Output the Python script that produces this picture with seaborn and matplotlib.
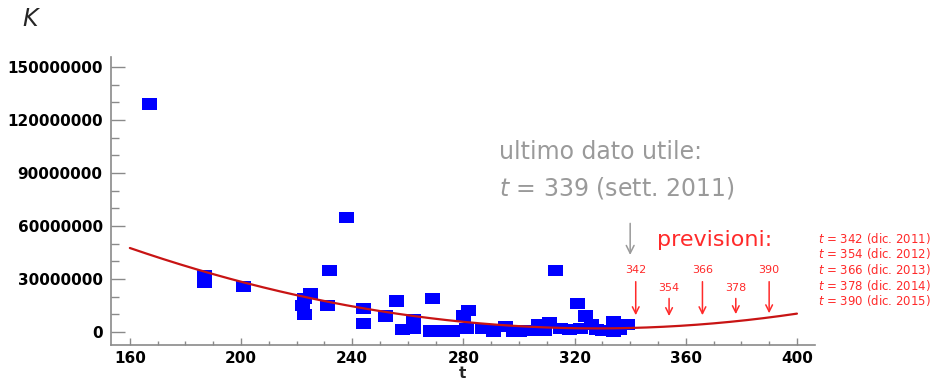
import numpy as np
import pandas as pd
import matplotlib
matplotlib.use("Agg")
import matplotlib.pyplot as plt
from matplotlib.ticker import MultipleLocator, FuncFormatter
import seaborn as sns

# observed points (t, K)
t_obs = [167, 187, 187, 201, 222, 223, 223, 225, 231, 232, 238, 244, 244, 252,
         256, 258, 262, 262, 268, 269, 272, 276, 280, 281, 282, 287, 291, 295,
         298, 300, 304, 307, 309, 311, 313, 315, 318, 321, 322, 324, 326, 328,
         330, 334, 334, 336, 339]
k_obs = [129e6, 32e6, 28e6, 25.5e6, 15e6, 10e6, 19e6, 21.5e6, 15e6, 35e6, 65e6,
         13.5e6, 5e6, 9e6, 17.5e6, 1.5e6, 7e6, 2e6, 0.5e6, 19e6, 0.5e6, 0.5e6,
         9e6, 2e6, 12e6, 2e6, 0.5e6, 3e6, 0.5e6, 0.5e6, 1e6, 4e6, 1e6, 5.5e6,
         35e6, 2e6, 1.5e6, 16e6, 2e6, 9e6, 4e6, 1.5e6, 1e6, 6e6, 0.5e6, 1.5e6, 4e6]

# quadratic trend K(t) = a (t - t0)^2 + c
fit_a = 1612.0
fit_t0 = 328.0
fit_c = 2.0e6
t_fit = np.linspace(160, 400, 241)

# forecasts
t_prev = [342, 354, 366, 378, 390]
prev_label_y = [35e6, 25e6, 35e6, 25e6, 35e6]
prev_arrow_top = [30e6, 20.5e6, 30e6, 20.5e6, 30e6]
prev_arrow_tip = [7.9e6, 7.4e6, 7.9e6, 8.5e6, 9.0e6]
prev_dates = ["dic. 2011", "dic. 2012", "dic. 2013", "dic. 2014", "dic. 2015"]

t_last = 339
RED = "#ff2a2a"
GRAY = "#9a9a9a"

sns.set_style("white")
plt.rcParams["font.family"] = ["DejaVu Sans"]

fig = plt.figure(figsize=(9.34, 3.79), dpi=100)
ax = fig.add_axes([0.1188, 0.0897, 0.7538, 0.76])

df = pd.DataFrame({"t": t_obs, "K": k_obs})
rect = [(-1.35, -1), (1.35, -1), (1.35, 1), (-1.35, 1)]
sns.scatterplot(data=df, x="t", y="K", marker=rect, s=117, color="#0000ff",
                edgecolor="none", linewidth=0, ax=ax, zorder=2)

df_fit = pd.DataFrame({"t": t_fit, "K": fit_a * (t_fit - fit_t0) ** 2 + fit_c})
sns.lineplot(data=df_fit, x="t", y="K", color="#c81414", lw=1.6, ax=ax, zorder=3)

ax.set_xlim(153.2, 406.5)
ax.set_ylim(-7.4e6, 155.6e6)

for s in ["top", "right"]:
    ax.spines[s].set_visible(False)
for s in ["left", "bottom"]:
    ax.spines[s].set_color("#8a8a8a")
    ax.spines[s].set_linewidth(1.2)

ax.xaxis.set_major_locator(MultipleLocator(40))
ax.xaxis.set_minor_locator(MultipleLocator(10))
ax.yaxis.set_major_locator(MultipleLocator(30e6))
ax.yaxis.set_minor_locator(MultipleLocator(10e6))
ax.yaxis.set_major_formatter(FuncFormatter(lambda v, p: f"{int(round(v))}"))
ax.tick_params(axis="y", which="major", direction="in", length=10, width=1, color="#8a8a8a",
               labelsize=11, pad=6, labelcolor="black")
ax.tick_params(axis="y", which="minor", direction="in", length=6, width=1, color="#8a8a8a")
ax.tick_params(axis="x", which="major", direction="in", length=5, width=1, color="#8a8a8a",
               labelsize=11, pad=4, labelcolor="black")
ax.tick_params(axis="x", which="minor", direction="in", length=3, width=1, color="#8a8a8a")
ax.tick_params(left=True, bottom=True, which="both")
for lab in ax.get_xticklabels() + ax.get_yticklabels():
    lab.set_fontweight("bold")

ax.set_xlabel("")
ax.set_ylabel("")
fig.text(462 / 934, 1 - 373 / 379, "t", fontsize=11, fontweight="bold", ha="center", va="center")
fig.text(0.032, 0.95, "K", fontsize=17, style="italic", ha="center", va="center")

# last useful datum
ax.text(292.8, 102e6, "ultimo dato utile:", fontsize=17, color=GRAY, va="center")
ax.text(292.8, 81.5e6, f"$t$ = {t_last} (sett. 2011)", fontsize=17, color=GRAY, va="center")
ax.annotate("", xy=(340, 42e6), xytext=(340, 63e6),
            arrowprops=dict(arrowstyle="->", color=GRAY, lw=1.1, mutation_scale=14))

ax.text(349.6, 52e6, "previsioni:", fontsize=16, color=RED, va="center")
for tp, ly, at, tip in zip(t_prev, prev_label_y, prev_arrow_top, prev_arrow_tip):
    ax.text(tp, ly, str(tp), fontsize=8, color=RED, ha="center", va="center")
    ax.annotate("", xy=(tp, tip), xytext=(tp, at),
                arrowprops=dict(arrowstyle="->", color=RED, lw=1.1, mutation_scale=12))

for i, (tp, d) in enumerate(zip(t_prev, prev_dates)):
    fig.text(0.876, 1 - 238 / 379 - i * 15.7 / 379, f"$t$ = {tp} ({d})",
             fontsize=8.5, color=RED, va="center")

fig.savefig("out.png", dpi=100)
